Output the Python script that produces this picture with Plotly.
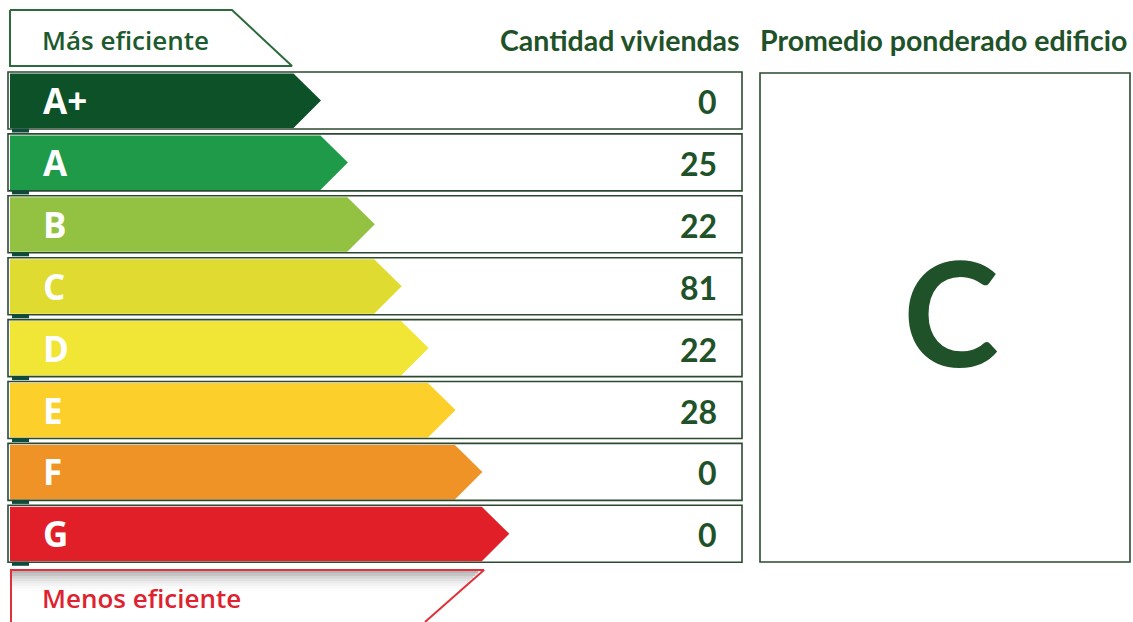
import plotly.graph_objects as go

# ---- data ----
categories = ["A+", "A", "B", "C", "D", "E", "F", "G"]
viviendas = [0, 25, 22, 81, 22, 28, 0, 0]
promedio = "C"
header_count = "Cantidad viviendas"
header_avg = "Promedio ponderado edificio"
top_label = "Más eficiente"
bottom_label = "Menos eficiente"

# ---- styles ----
colors = ["#0c5128", "#1e9a48", "#93c142", "#dfdb31", "#f1e635", "#fccf2b", "#ef9326", "#e11f29"]
GREEN = "#1f5229"
W, H = 1133, 622
row_top0, row_pitch, row_h = 72, 61.9, 57
box_x0, box_x1 = 8, 742
tip0, tip_step = 321, 26.9

fig = go.Figure()
shapes = []
annotations = []

# arrows
for i, (cat, val, col) in enumerate(zip(categories, viviendas, colors)):
    y0 = row_top0 + row_pitch * i
    y1 = y0 + row_h
    ym = (y0 + y1) / 2
    tip = tip0 + tip_step * i
    half = (y1 - y0) / 2 - 1
    xs = [10, tip - half, tip, tip - half, 10, 10]
    ys = [y0 + 1.5, y0 + 1.5, ym, y1 - 1, y1 - 1, y0 + 1.5]
    fig.add_trace(go.Scatter(x=xs, y=ys, fill="toself", fillcolor=col, mode="lines",
                             line=dict(width=0, color=col), hoverinfo="skip", showlegend=False))
    shapes.append(dict(type="rect", x0=box_x0, x1=box_x1, y0=y0, y1=y1,
                       line=dict(color="#2b4a31", width=1.6), fillcolor="rgba(0,0,0,0)", layer="above"))
    # small dark tab under bar
    shapes.append(dict(type="rect", x0=12, x1=29, y0=y1 - 0.5, y1=y1 + 3.5,
                       line=dict(width=0), fillcolor="#0f4a3a", layer="above"))
    annotations.append(dict(x=41, y=ym, text=f"<b>{cat}</b>", showarrow=False, xanchor="left",
                            yanchor="middle", font=dict(family="Open Sans", size=35, color="white")))
    annotations.append(dict(x=719, y=ym + 1, text=f"<b>{val}</b>", showarrow=False, xanchor="right",
                            yanchor="middle", font=dict(family="Lato", size=32, color=GREEN)))

# top label tag
fig.add_trace(go.Scatter(x=[10, 232, 292, 10, 10], y=[10, 10, 66, 66, 10], mode="lines",
                         line=dict(color="#2e6b3c", width=2), fill="toself", fillcolor="white",
                         hoverinfo="skip", showlegend=False))
annotations.append(dict(x=40, y=40, text=top_label, showarrow=False, xanchor="left", yanchor="middle",
                        font=dict(family="Open Sans", size=26, weight=600, color="#1d5a2e")))

# bottom label tag with shadow
for k, a in enumerate([0.45, 0.35, 0.26, 0.18, 0.12, 0.07, 0.04, 0.02]):
    shapes.append(dict(type="rect", x0=12, x1=478 - k * 2.5, y0=571 + k * 2.5, y1=573.5 + k * 2.5,
                       line=dict(width=0), fillcolor=f"rgba(90,90,90,{a})", layer="below"))
fig.add_trace(go.Scatter(x=[11, 11, 484, 425], y=[622, 570, 570, 622], mode="lines",
                         line=dict(color="#e0303a", width=2), hoverinfo="skip", showlegend=False))
annotations.append(dict(x=40, y=598, text=bottom_label, showarrow=False, xanchor="left", yanchor="middle",
                        font=dict(family="Open Sans", size=26, weight=600, color="#de2230")))

# headers
annotations.append(dict(x=742, y=40, text=f"<b>{header_count}</b>", showarrow=False, xanchor="right",
                        yanchor="middle", font=dict(family="Lato", size=28.5, color=GREEN)))
annotations.append(dict(x=1129, y=40, text=f"<b>{header_avg}</b>", showarrow=False, xanchor="right",
                        yanchor="middle", font=dict(family="Lato", size=28.5, color=GREEN)))

# average box
shapes.append(dict(type="rect", x0=760, x1=1130, y0=73, y1=562,
                   line=dict(color="#2b4a31", width=1.6), fillcolor="rgba(0,0,0,0)"))
annotations.append(dict(x=951, y=311, text=f"<b>{promedio}</b>", showarrow=False, xanchor="center",
                        yanchor="middle", font=dict(family="Lato", size=145, color=GREEN)))

fig.update_layout(
    width=W, height=H, margin=dict(l=0, r=0, t=0, b=0),
    paper_bgcolor="white", plot_bgcolor="white",
    xaxis=dict(range=[0, W], visible=False, fixedrange=True),
    yaxis=dict(range=[H, 0], visible=False, fixedrange=True),
    shapes=shapes, annotations=annotations, showlegend=False,
)
fig.write_html("out.html", config={"displayModeBar": False})
